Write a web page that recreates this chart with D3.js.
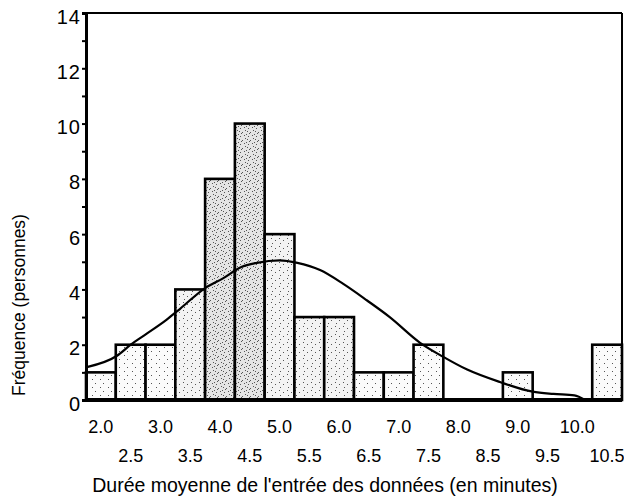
<!DOCTYPE html>
<html>
<head>
<meta charset="utf-8">
<script src="https://cdn.jsdelivr.net/npm/d3@7"></script>
<style>
  body { margin: 0; background: #fff; }
  svg { display: block; font-family: "Liberation Sans", Arial, sans-serif; }
</style>
</head>
<body>
<div id="chart"></div>
<script>
'use strict'

//---------------------------Datos--------------------------------//
// centro de cada clase (minutos) y frecuencia
var classes = [2.0, 2.5, 3.0, 3.5, 4.0, 4.5, 5.0, 5.5, 6.0, 6.5, 7.0, 7.5, 8.0, 8.5, 9.0, 9.5, 10.0, 10.5];
var counts  = [1, 2, 2, 4, 8, 10, 6, 3, 3, 1, 1, 2, 0, 0, 1, 0, 0, 2];

// curva normal
var curveX = [1.78, 2.27, 2.5, 2.77, 3.1, 3.33, 3.75, 4.05, 4.35, 4.62, 5.0, 5.3, 5.68, 6.07, 6.47, 6.85, 7.36, 7.75, 8.15, 8.7, 9.25, 9.6, 9.95, 10.13];
var curveY = [1.2, 1.6, 2.0, 2.4, 2.9, 3.3, 4.05, 4.4, 4.8, 4.96, 5.05, 4.96, 4.7, 4.2, 3.6, 3.0, 2.07, 1.56, 1.1, 0.65, 0.3, 0.22, 0.17, 0.0];

var yTicks = [0, 2, 4, 6, 8, 10, 12, 14];
var xTicksTop = ['2.0', '3.0', '4.0', '5.0', '6.0', '7.0', '8.0', '9.0', '10.0'];
var xTicksBottom = ['2.5', '3.5', '4.5', '5.5', '6.5', '7.5', '8.5', '9.5', '10.5'];

var xTitle = "Durée moyenne de l'entrée des données (en minutes)";
var yTitle = 'Fréquence (personnes)';

//---------------------------Dimensiones--------------------------------//
var W = 624, H = 499;
var margin = { top: 13, right: 2, bottom: 99, left: 86 },
  width = W - margin.left - margin.right,
  height = H - margin.top - margin.bottom;

var binW = 0.5;
var x = d3.scaleLinear().domain([1.75, 10.75]).range([0, width]);
var y = d3.scaleLinear().domain([0, 14]).range([height, 0]);

var svg = d3.select('#chart').append('svg')
  .attr('width', W)
  .attr('height', H);

// tramas punteadas
var defs = svg.append('defs');
function stipple(id, bg, dots) {
  var p = defs.append('pattern')
    .attr('id', id)
    .attr('patternUnits', 'userSpaceOnUse')
    .attr('width', 8).attr('height', 8);
  p.append('rect').attr('width', 8).attr('height', 8).attr('fill', bg);
  dots.forEach(function (d) {
    p.append('rect').attr('x', d[0]).attr('y', d[1]).attr('width', 1).attr('height', 1).attr('fill', '#555');
  });
}
stipple('light', '#fbfbfb', [[1, 2], [6, 6]]);
stipple('medium', '#f3f3f3', [[1, 1], [5, 3], [2, 6]]);
stipple('dense', '#e4e4e4', [[0, 1], [3, 0], [6, 2], [2, 3], [7, 5], [1, 6], [4, 7]]);

var g = svg.append('g')
  .attr('transform', 'translate(' + margin.left + ',' + margin.top + ')');

var bars = classes.map(function (c, i) { return { c: c, n: counts[i] }; });

//---------------------------Barras--------------------------------//
g.selectAll('rect.bar')
  .data(bars.filter(function (d) { return d.n > 0; }))
  .enter().append('rect')
  .attr('class', 'bar')
  .attr('x', function (d) { return x(d.c - binW / 2); })
  .attr('y', function (d) { return y(d.n); })
  .attr('width', function (d) { return x(d.c + binW / 2) - x(d.c - binW / 2); })
  .attr('height', function (d) { return y(0) - y(d.n); })
  .attr('fill', function (d) { return d.n >= 8 ? 'url(#dense)' : (d.n >= 3 ? 'url(#medium)' : 'url(#light)'); })
  .attr('stroke', '#000')
  .attr('stroke-width', 2.6);

//---------------------------Curva--------------------------------//
var pts = curveX.map(function (v, i) { return [v, curveY[i]]; });
g.append('path')
  .datum(pts)
  .attr('fill', 'none')
  .attr('stroke', '#000')
  .attr('stroke-width', 2.2)
  .attr('d', d3.line()
    .x(function (d) { return x(d[0]); })
    .y(function (d) { return y(d[1]); })
    .curve(d3.curveMonotoneX));

//---------------------------Marco--------------------------------//
g.append('line')
  .attr('x1', 0).attr('x2', width).attr('y1', 0).attr('y2', 0)
  .attr('stroke', '#000').attr('stroke-width', 2);
g.append('line')
  .attr('x1', width).attr('x2', width).attr('y1', 0).attr('y2', height)
  .attr('stroke', '#000').attr('stroke-width', 2);
g.append('line')
  .attr('x1', 0).attr('x2', width).attr('y1', height).attr('y2', height)
  .attr('stroke', '#000').attr('stroke-width', 4);

//---------------------------Eje Y--------------------------------//
var yAxis = g.append('g')
  .call(d3.axisLeft(y).tickValues(d3.range(0, 15, 1)).tickSize(4)
    .tickFormat(function (d) { return yTicks.indexOf(d) >= 0 ? d : ''; }));
yAxis.select('.domain').attr('stroke-width', 3);
yAxis.selectAll('.tick line').attr('stroke-width', 2);
yAxis.selectAll('text')
  .attr('font-size', 20)
  .attr('letter-spacing', 1)
  .attr('x', -5)
  .attr('dy', '0.5em')
  .attr('fill', '#000');

//---------------------------Eje X (etiquetas)--------------------------------//
g.selectAll('text.xt1')
  .data(xTicksTop)
  .enter().append('text')
  .attr('class', 'xt1')
  .attr('x', function (d) { return x(+d); })
  .attr('y', height + 33)
  .attr('text-anchor', 'middle')
  .attr('font-size', 18)
  .text(function (d) { return d; });

g.selectAll('text.xt2')
  .data(xTicksBottom)
  .enter().append('text')
  .attr('class', 'xt2')
  .attr('x', function (d) { return x(+d); })
  .attr('y', height + 62)
  .attr('text-anchor', 'middle')
  .attr('font-size', 18)
  .text(function (d) { return d; });

//---------------------------Titulos--------------------------------//
svg.append('text')
  .attr('x', 325)
  .attr('y', 492)
  .attr('text-anchor', 'middle')
  .attr('font-size', 19.5)
  .text(xTitle);

svg.append('text')
  .attr('transform', 'translate(25,305) rotate(-90)')
  .attr('text-anchor', 'middle')
  .attr('font-size', 17.5)
  .text(yTitle);
</script>
</body>
</html>
